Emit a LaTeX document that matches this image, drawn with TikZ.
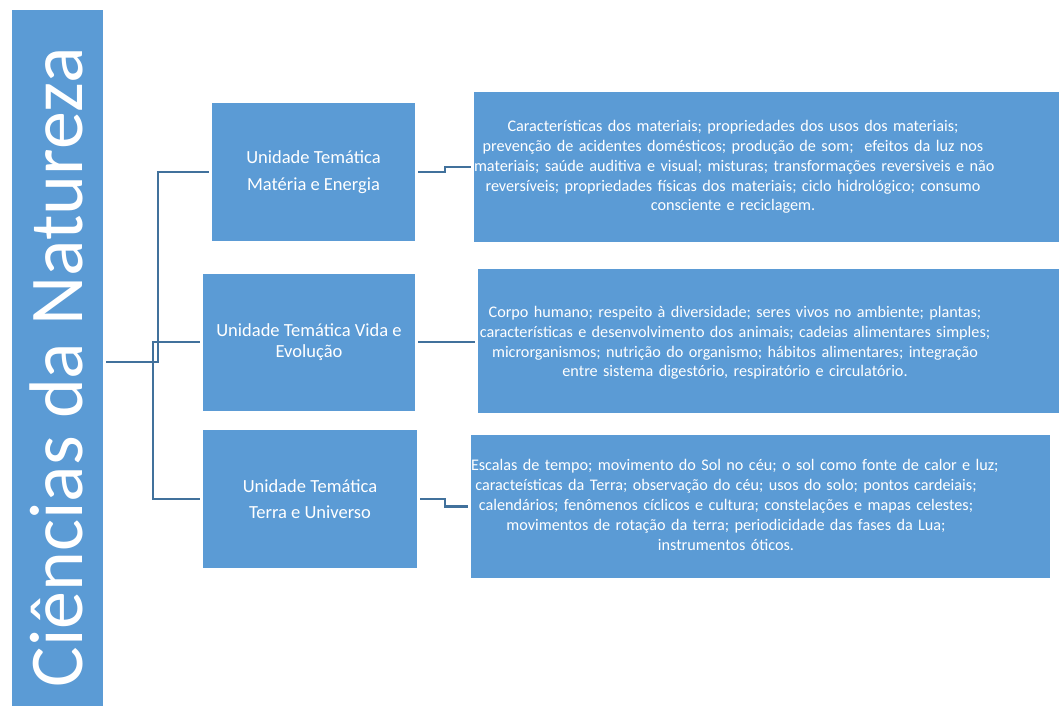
\documentclass[tikz,border=0pt]{standalone}
\usepackage{fontspec}
\setmainfont{Carlito}
\definecolor{boxblue}{HTML}{5B9BD5}
\definecolor{lineblue}{HTML}{41719C}
\newcommand{\oneline}[1]{\mbox{#1}}
\begin{document}
\begin{tikzpicture}[x=1pt,y=-1pt,
  bluebox/.style={fill=boxblue, draw=none, inner sep=0pt},
  unitbox/.style={bluebox, text=white, align=center, font=\fontsize{18.5}{21.5}\selectfont},
  desctext/.style={text=white, align=center, inner sep=0pt, font=\fontsize{16.2}{19.8}\selectfont},
  conn/.style={draw=lineblue, line width=2.2pt, shorten <=3pt, shorten >=3pt}]
\useasboundingbox (0,0) rectangle (1059,706);
% main box
\node[bluebox, minimum width=91, minimum height=700] (main) at (57.5,360) {};
\node[text=white, rotate=90, anchor=base, inner sep=0pt, font=\fontsize{76}{80}\selectfont] (title) at (82,367.5) {Ciências da Natureza};
% unit boxes
\node[unitbox, minimum width=203, minimum height=138] (b1) at (313.5,172) {Unidade Temática\\[5pt]Matéria e Energia};
\node[unitbox, minimum width=212, minimum height=137] (b2) at (309,342) {Unidade Temática Vida e\\Evolução};
\node[unitbox, minimum width=214, minimum height=138] (b3) at (310,499) {Unidade Temática\\[5pt]Terra e Universo};
% description boxes
\node[bluebox, minimum width=592, minimum height=150] (r1) at (770,167) {};
\node[bluebox, minimum width=588, minimum height=144] (r2) at (772,341) {};
\node[bluebox, minimum width=579, minimum height=143] (r3) at (760.5,506.5) {};
\node[desctext, text width=518] (r1t) at (733,167) {\oneline{Características dos materiais; propriedades dos usos dos materiais;}\\
\oneline{prevenção de acidentes domésticos; produção de som;~ efeitos da luz nos}\\
\oneline{materiais; saúde auditiva e visual; misturas; transformações reversiveis e não}\\
\oneline{reversíveis; propriedades físicas dos materiais; ciclo hidrológico; consumo}\\
\oneline{consciente e reciclagem.}};
\node[desctext, text width=514] (r2t) at (735,343) {\oneline{Corpo humano; respeito à diversidade; seres vivos no ambiente; plantas;}\\
\oneline{características e desenvolvimento dos animais; cadeias alimentares simples;}\\
\oneline{microrganismos; nutrição do organismo; hábitos alimentares; integração}\\
\oneline{entre sistema digestório, respiratório e circulatório.}};
\node[desctext, text width=510] (r3t) at (726,505) {\oneline{Escalas de tempo; movimento do Sol no céu; o sol como fonte de calor e luz;}\\
\oneline{caracteísticas da Terra; observação do céu; usos do solo; pontos cardeiais;}\\
\oneline{calendários; fenômenos cíclicos e cultura; constelações e mapas celestes;}\\
\oneline{movimentos de rotação da terra; periodicidade das fases da Lua;}\\
\oneline{instrumentos óticos.}};
% connectors from main
\draw[conn] ([yshift=-2pt]main.east) -- (158,362) -- (158,172) -- (b1.west);
\draw[conn] ([yshift=-2pt]main.east) -- (153,362) -- (153,342) -- (b2.west);
\draw[conn] ([yshift=-2pt]main.east) -- (153,362) -- (153,499) -- (b3.west);
% connectors to descriptions
\draw[conn] (b1.east) -- (445,172) -- (445,167) -- (r1.west);
\draw[conn] (b2.east) -- (r2.west |- b2.east);
\draw[conn] (b3.east) -- (445,499) -- (445,506.5) -- (r3.west);
\end{tikzpicture}
\end{document}
